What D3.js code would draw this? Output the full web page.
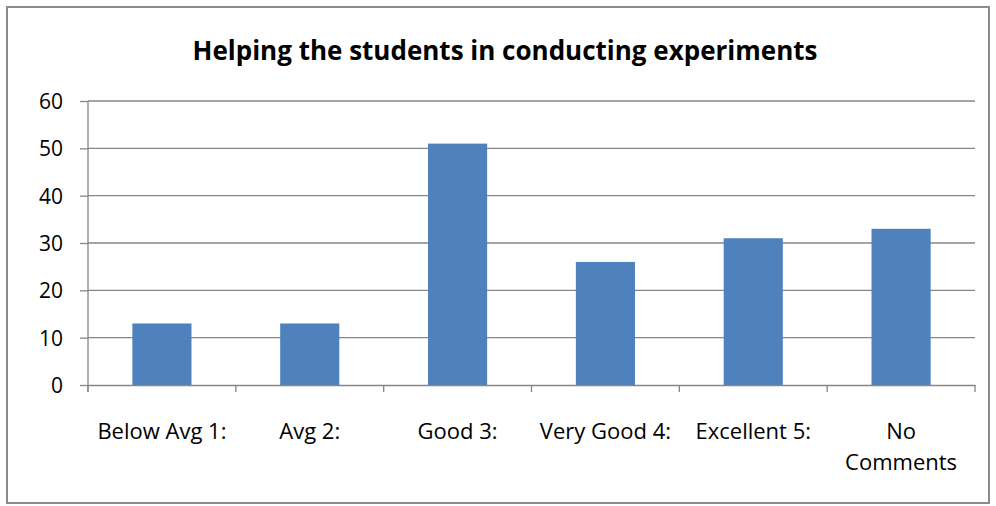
<!DOCTYPE html>
<html>
<head>
<meta charset="utf-8">
<script src="https://cdn.jsdelivr.net/npm/d3@7"></script>
<style>
  body { margin: 0; background: #fff; }
  svg text { font-family: "Open Sans", "Liberation Sans", Arial, sans-serif; fill: #000; }
</style>
</head>
<body>
<div id="chart"></div>
<script>
// data
var categories = ["Below Avg 1:", "Avg 2:", "Good 3:", "Very Good 4:", "Excellent 5:", "No Comments"];
var values = [13, 13, 51, 26, 31, 33];
var yTicks = [0, 10, 20, 30, 40, 50, 60];
var title = "Helping the students in conducting experiments";

var width = 996, height = 506;
var plotLeft = 88, plotRight = 975, plotTop = 101, plotBottom = 385;

var svg = d3.select("#chart").append("svg")
    .attr("width", width)
    .attr("height", height);

// outer frame
svg.append("rect")
    .attr("x", 7).attr("y", 7)
    .attr("width", 982).attr("height", 496)
    .attr("fill", "#fff")
    .attr("stroke", "#8c8c8c")
    .attr("stroke-width", 2);

svg.append("text")
    .attr("x", 505).attr("y", 60)
    .attr("text-anchor", "middle")
    .style("font-size", "26px")
    .style("font-weight", "bold")
    .text(title);

var x = d3.scaleBand()
    .domain(categories)
    .range([plotLeft, plotRight])
    .paddingInner(0.6)
    .paddingOuter(0.3);

var y = d3.scaleLinear()
    .domain([0, 60])
    .range([plotBottom, plotTop]);

// gridlines
svg.append("g")
    .selectAll("line")
    .data(yTicks.filter(function(d){ return d > 0; }))
    .enter()
    .append("line")
    .attr("x1", plotLeft).attr("x2", plotRight)
    .attr("y1", function(d){ return y(d); })
    .attr("y2", function(d){ return y(d); })
    .attr("stroke", "#868686")
    .attr("stroke-width", 1.3);

// bars
svg.append("g")
    .selectAll("rect")
    .data(values)
    .enter()
    .append("rect")
    .attr("x", function(d, i){ return x(categories[i]); })
    .attr("width", x.bandwidth())
    .attr("y", function(d){ return y(d); })
    .attr("height", function(d){ return y(0) - y(d); })
    .attr("fill", "#4f81bd");

// y axis
var yAxis = svg.append("g")
    .attr("transform", "translate(" + plotLeft + ",0)")
    .call(d3.axisLeft(y).tickValues(yTicks).tickSize(8).tickPadding(17));
yAxis.selectAll("text").style("font-size", "21px").attr("dy", "0.35em");

// x axis with ticks on category boundaries
var xAxis = svg.append("g")
    .attr("transform", "translate(0," + plotBottom + ")")
    .call(d3.axisBottom(x).tickSize(0).tickPadding(0));
xAxis.selectAll("text").remove();

var step = x.step();
var bounds = d3.range(categories.length + 1).map(function(i){ return plotLeft + i * step; });
xAxis.selectAll(".bound")
    .data(bounds)
    .enter()
    .append("line")
    .attr("class", "bound")
    .attr("x1", function(d){ return d; })
    .attr("x2", function(d){ return d; })
    .attr("y1", 0).attr("y2", 7);

svg.selectAll(".domain, .tick line, .bound")
    .attr("stroke", "#868686")
    .attr("stroke-width", 1.3);
yAxis.select(".domain").attr("d", "M0," + (plotBottom + 7) + "V" + plotTop);

// category labels, wrapped when they do not fit
categories.forEach(function(c, i){
    var cx = x(c) + x.bandwidth() / 2;
    var lines = c === "No Comments" ? ["No", "Comments"] : [c];
    lines.forEach(function(l, j){
        svg.append("text")
            .attr("x", cx)
            .attr("y", 439 + j * 31)
            .attr("text-anchor", "middle")
            .style("font-size", "22px")
            .text(l);
    });
});
</script>
</body>
</html>
